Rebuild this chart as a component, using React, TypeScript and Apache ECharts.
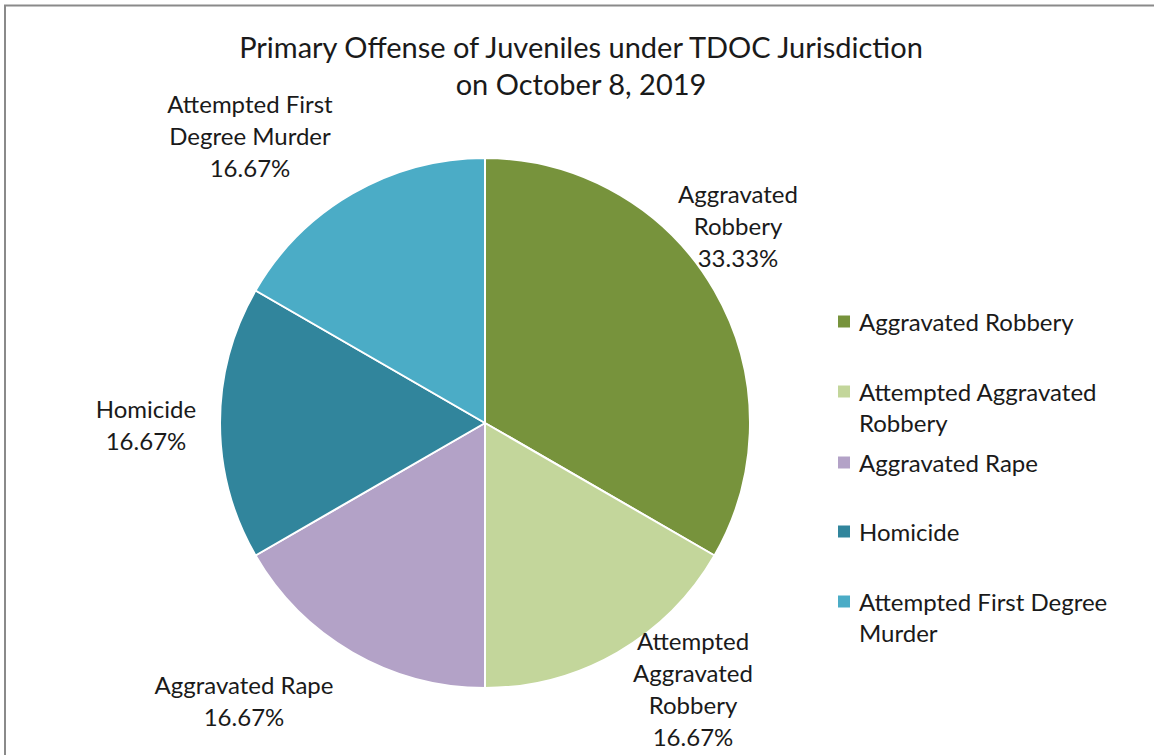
import React, { useEffect, useRef } from "react";
import * as echarts from "echarts";

const TITLE_LINES = ["Primary Offense of Juveniles under TDOC Jurisdiction", "on October 8, 2019"];
const CATEGORIES = [
  "Aggravated Robbery",
  "Attempted Aggravated Robbery",
  "Aggravated Rape",
  "Homicide",
  "Attempted First Degree Murder",
];
const VALUES = [2, 1, 1, 1, 1];
const COLORS = ["#77933C", "#C3D69B", "#B3A2C7", "#31859C", "#4BACC6"];
const LABEL_LINES = [
  ["Aggravated", "Robbery"],
  ["Attempted", "Aggravated", "Robbery"],
  ["Aggravated Rape"],
  ["Homicide"],
  ["Attempted First", "Degree Murder"],
];
const LEGEND_LINES = [
  ["Aggravated Robbery"],
  ["Attempted Aggravated", "Robbery"],
  ["Aggravated Rape"],
  ["Homicide"],
  ["Attempted First Degree", "Murder"],
];

// layout (pixels)
const LABEL_CENTERS = [
  [738, 225],
  [693, 688],
  [244, 700],
  [146, 424],
  [250, 135],
];
const LEGEND_TOPS = [306, 345, 447, 516, 555];

const FONT = "Lato, 'Open Sans', sans-serif";

export default function App() {
  const ref = useRef<HTMLDivElement>(null);
  useEffect(() => {
    if (!ref.current) return;
    const chart = echarts.init(ref.current, null, { renderer: "svg" });
    const total = VALUES.reduce((a, b) => a + b, 0);
    const lh = 31;
    chart.setOption({
      animation: false,
      backgroundColor: "#ffffff",
      textStyle: { fontFamily: FONT },
      title: {
        text: TITLE_LINES.join("\n"),
        left: 581,
        textAlign: "center",
        top: 28,
        padding: 0,
        textStyle: { fontFamily: FONT, fontSize: 29, fontWeight: "normal", color: "#1a1a1a", lineHeight: 37 },
      },
      graphic: [
        {
          type: "rect",
          shape: { x: 5, y: 5.5, width: 1300, height: 900 },
          style: { fill: "none", stroke: "#8a8a8a", lineWidth: 2 },
          silent: true,
        },
      ],
      legend: CATEGORIES.map((c, i) => {
        const lines = LEGEND_LINES[i];
        // pad with empty lines above so the icon sits on the first text line
        const padded = [...Array(lines.length - 1).fill(""), ...lines];
        return {
          data: [c],
          orient: "vertical",
          left: 836,
          top: LEGEND_TOPS[i],
          padding: 0,
          icon: "rect",
          itemWidth: 14,
          itemHeight: 14,
          selectedMode: false,
          formatter: () => padded.join("\n"),
          textStyle: {
            fontFamily: FONT,
            fontSize: 24,
            color: "#1a1a1a",
            lineHeight: lh,
            padding: [0, 0, 0, 3],
          },
        };
      }),
      series: [
        {
          type: "pie",
          center: [485, 423],
          radius: [0, 265],
          startAngle: 90,
          clockwise: true,
          avoidLabelOverlap: false,
          itemStyle: { borderColor: "#ffffff", borderWidth: 2 },
          label: {
            show: true,
            position: "outside",
            fontFamily: FONT,
            fontSize: 24,
            lineHeight: 32,
            color: "#1a1a1a",
            formatter: (p: any) =>
              [...LABEL_LINES[p.dataIndex], ((VALUES[p.dataIndex] / total) * 100).toFixed(2) + "%"].join("\n"),
          },
          labelLine: { show: false },
          labelLayout: (p: any) => ({
            x: LABEL_CENTERS[p.dataIndex][0],
            y: LABEL_CENTERS[p.dataIndex][1],
            align: "center",
            verticalAlign: "middle",
          }),
          emphasis: { disabled: true },
          data: CATEGORIES.map((c, i) => ({ name: c, value: VALUES[i], itemStyle: { color: COLORS[i] } })),
        },
      ],
    });
    return () => chart.dispose();
  }, []);
  return <div ref={ref} style={{ position: "absolute", left: 0, top: 0, width: 1154, height: 755 }} />;
}
